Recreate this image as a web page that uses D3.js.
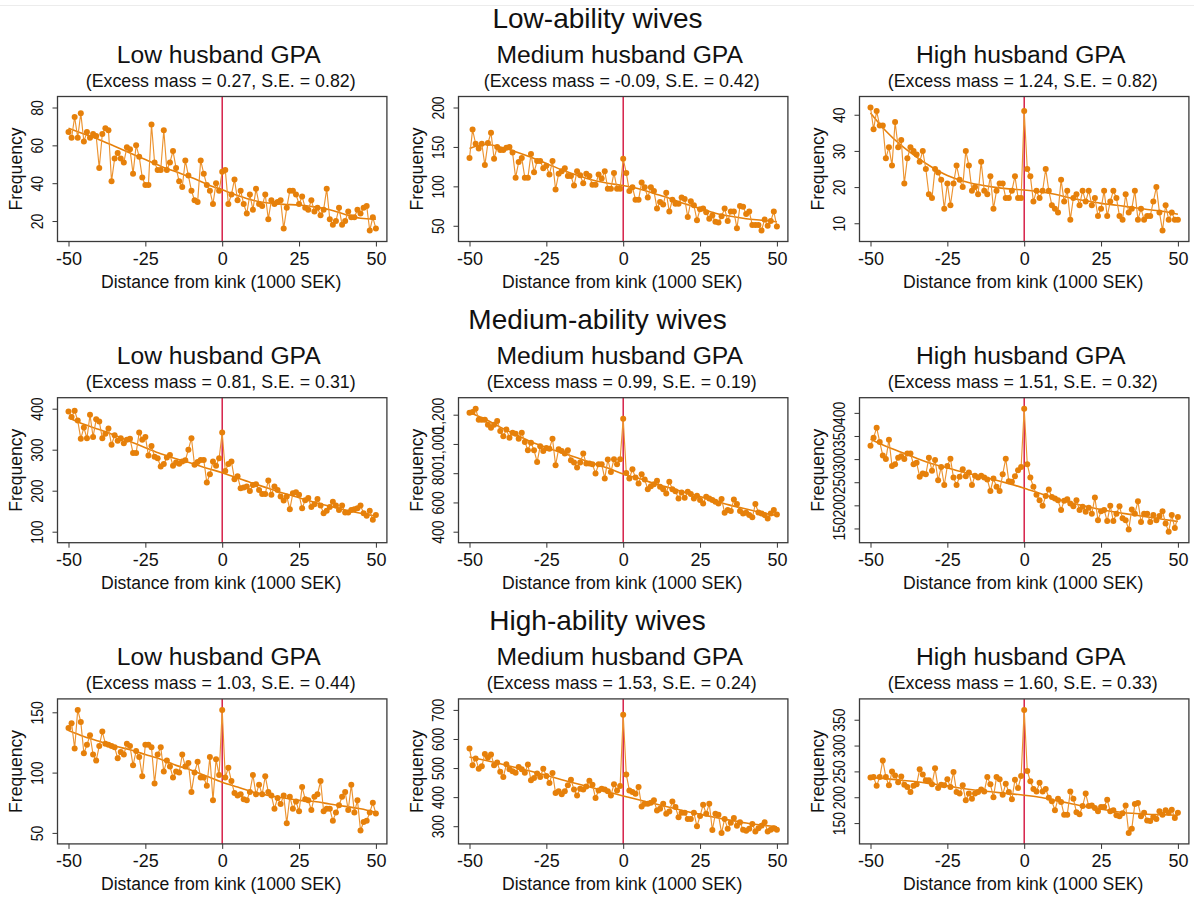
<!DOCTYPE html>
<html>
<head>
<meta charset="utf-8">
<script src="https://cdn.jsdelivr.net/npm/d3@7"></script>
<style>
  html, body { margin: 0; padding: 0; background: #fff; }
  svg { display: block; font-family: "Liberation Sans", Arial, Helvetica, sans-serif; }
</style>
</head>
<body>
<svg id="chart" width="1194" height="900"></svg>
<script>
// Income bins, distance from the kink in 1000 SEK
const bins = d3.range(-50, 51);
const fitBins = d3.range(-50, 51, 5);

const rowTitles = ["Low-ability wives", "Medium-ability wives", "High-ability wives"];
const colTitles = ["Low husband GPA", "Medium husband GPA", "High husband GPA"];
const excessMass = [[0.27, -0.09, 1.24], [0.81, 0.99, 1.51], [1.03, 1.53, 1.60]];
const stdErr = [[0.82, 0.42, 0.82], [0.31, 0.19, 0.32], [0.44, 0.24, 0.33]];

// Observed frequencies per bin (-50 ... 50)
const lowLow = [67,64,75,64,77,62,67,64,66,65, 48,66,69,68,41,53,56,53,51,59, 58,45,60,54,43,39,39,71,51,47,
  47,68,47,51,57,48,41,38,52,44, 36,31,30,52,45,39,36,29,40,36, 46,
  47,29,34,42,31,36,29,24,34,26, 37,29,28,34,21,31,29,30,31,16, 27,36,36,34,29,33,27,26,31,25,
  27,23,26,37,21,18,20,27,18,20, 25,22,22,26,24,27,28,15,22,16];
const lowMed = [136,172,154,148,154,127,155,168,135,150, 146,146,149,150,143,111,131,136,111,111,
  141,118,132,132,123,126,115,132,96,116, 119,123,113,113,101,119,114,104,116,113,
  102,102,115,110,119,97,97,117,97,97, 135,
  117,94,99,83,83,105,99,86,99,94, 72,80,77,92,68,83,78,78,86,84, 61,81,76,57,71,72,67,59,63,55,
  54,62,72,56,68,68,47,75,74,65, 68,51,51,51,44,58,50,56,68,49];
const lowHigh = [42,36,41,37,37,28,31,26,38,31, 33,21,28,31,30,29,27,30,25,18, 17,25,24,22,14,21,15,21,26,22,
  20,30,26,19,20,18,27,19,18,23, 14,19,21,21,17,17,19,23,17,17, 41,
  25,23,16,19,17,19,25,19,15,14, 13,22,16,19,11,17,18,15,19,16, 19,15,17,12,14,19,12,16,19,17,
  12,11,18,13,14,19,11,14,11,12, 12,16,20,13,8,15,11,13,11,11];
const medLow = [393,380,395,371,327,354,328,385,331,374, 369,328,339,352,312,335,322,328,316,324,
  327,292,292,342,324,331,286,309,283,279, 259,265,281,287,261,269,266,271,274,300,
  328,263,270,275,275,220,240,271,261,279, 342,
  248,265,271,228,235,206,208,210,199,214, 216,202,192,192,225,190,210,202,186,176,
  186,155,194,196,190,157,177,182,160,167, 180,164,145,151,160,173,164,153,164,147,
  147,153,155,157,164,145,139,151,129,141];
const medMed = [1214,1218,1241,1166,1166,1166,1132,1111,1132,1157, 1089,1052,1098,1043,1077,1070,1036,1077,1014,957,
  1009,957,877,984,952,973,968,1036,855,964, 952,934,957,889,873,839,873,934,866,866,
  861,798,861,861,764,893,809,895,861,895, 1173,
  802,764,827,770,730,793,757,691,711,725, 748,707,691,661,741,691,677,627,668,632,
  673,657,627,645,616,593,639,627,616,605, 593,623,530,548,541,620,589,541,525,530,
  514,498,589,532,525,514,491,525,548,518];
const medHigh = [329,346,368,337,308,300,342,285,289,303, 306,300,312,312,289,292,262,269,267,303,
  275,298,254,283,244,285,301,260,244,262, 278,263,271,244,264,260,264,260,256,231,
  258,240,231,267,301,252,251,263,276,283, 409,
  289,260,240,223,211,199,220,234,218,215, 211,190,210,213,204,198,211,190,197,186,
  195,182,217,168,187,190,166,199,166,182, 198,172,168,148,191,182,209,164,182,182,
  164,179,168,177,187,161,143,179,151,175];
const highLow = [137,141,120,152,142,116,123,131,115,110, 122,134,124,123,122,121,112,117,115,124,
  122,106,118,113,97,123,123,121,91,115, 121,101,110,105,96,101,100,115,105,108,
  84,100,109,96,96,89,113,77,111,98, 152,
  96,104,93,83,81,82,78,77,84,98, 82,90,82,97,84,81,70,79,74,81, 58,80,70,76,68,88,78,77,69,80,
  82,93,68,70,70,60,67,73,80,84, 69,90,67,77,52,59,60,67,75,66];
const highMed = [567,510,533,498,506,548,536,547,510,519, 487,469,513,496,489,484,504,496,484,512,
  458,466,481,469,498,473,449,483,414,420, 410,420,441,460,426,406,429,426,437,456,
  443,397,423,429,426,420,406,444,423,438, 683,
  478,423,418,412,435,368,377,377,381,389, 354,360,377,343,351,385,366,331,346,346,
  325,325,346,300,335,374,343,377,287,343, 339,277,325,291,312,328,302,314,288,284,
  291,308,282,293,302,314,282,288,293,288];
const highHigh = [238,239,222,239,271,239,223,250,242,229, 240,224,220,210,222,225,254,244,233,233,
  225,256,218,224,223,235,220,249,210,207, 223,194,207,197,207,210,215,211,239,225,
  200,239,235,205,226,210,196,234,218,241, 369,
  251,231,216,211,228,211,216,199,192,175, 197,191,166,166,211,197,171,167,183,207,
  183,184,179,173,181,181,195,173,175,165, 163,169,184,131,139,187,189,163,170,155,
  154,162,158,173,166,175,170,176,160,170];

// Estimated counterfactual density, every 5 bins (-50, -45, ... 50)
const fitLowLow   = [69,66,63,59.5,56,52.5,49,46,43,39.5,36.5,33.5,31,29.5,28.8,28.5,27.5,26,23.5,21.5,21];
const fitLowMed   = [148,153,150,144,137,129,121,114,108,104,101,97,91,85,78,72,66,62,59,57,55];
const fitLowHigh  = [40.5,35.5,31.5,28.3,25.5,23.2,21.7,20.7,20,19.5,19.2,18.7,18,17,16.2,15.5,15,14.4,13.8,13.3,12.5];
const fitMedLow   = [378,362,349,335,320,305,290,278,267,255,244,231,218,206,194,183,172,162,153,145,138];
const fitMedMed   = [1215,1170,1115,1065,1015,975,940,905,870,835,795,765,730,700,670,640,610,580,555,530,510];
const fitMedHigh  = [343,328,315,302,290,281,272,264,256,247,237,226,215,206,198,191,185,180,175,170,165];
const fitHighLow  = [135,130,126,122,119,115,111,106,102,97,92,88,84,81,79,77,76,74,72,70,67];
const fitHighMed  = [538,527,515,502,489,475,460,446,432,418,404,391,378,365,352,341,330,320,311,304,298];
const fitHighHigh = [238,236,233,230,226,222,217,213,210,207,204,200,194,188,182,177,172,169,167,166,165];

// Axis ticks
const xTicks = [-50, -25, 0, 25, 50];
const ticksLowLow   = [20, 40, 60, 80];
const ticksLowMed   = [50, 100, 150, 200];
const ticksLowHigh  = [10, 20, 30, 40];
const ticksMedLow   = [100, 200, 300, 400];
const ticksMedMed   = [400, 600, 800, 1000, 1200];
const ticksMedHigh  = [150, 200, 250, 300, 350, 400];
const ticksHighLow  = [50, 100, 150];
const ticksHighMed  = [300, 400, 500, 600, 700];
const ticksHighHigh = [150, 200, 250, 300, 350];

const panels = [
  [ {obs: lowLow,  fit: fitLowLow,  ticks: ticksLowLow},
    {obs: lowMed,  fit: fitLowMed,  ticks: ticksLowMed},
    {obs: lowHigh, fit: fitLowHigh, ticks: ticksLowHigh} ],
  [ {obs: medLow,  fit: fitMedLow,  ticks: ticksMedLow},
    {obs: medMed,  fit: fitMedMed,  ticks: ticksMedMed},
    {obs: medHigh, fit: fitMedHigh, ticks: ticksMedHigh} ],
  [ {obs: highLow,  fit: fitHighLow,  ticks: ticksHighLow},
    {obs: highMed,  fit: fitHighMed,  ticks: ticksHighMed},
    {obs: highHigh, fit: fitHighHigh, ticks: ticksHighHigh} ]
];

// Layout
const frameW = 329.4, frameH = 145;
const colStep = 401, rowStep = 301.2;
const frameLeft0 = 57.5, frameTop0 = 96.5;
const inset = 11;

const ORANGE = "#E6800A";
const LINE_ORANGE = "#EC9330";
const KINK = "#D3113D";
const INK = "#111";

const svg = d3.select("#chart");
svg.append("rect").attr("width", 1194).attr("height", 900).attr("fill", "#fff");
svg.append("line").attr("x1", 0).attr("x2", 1194).attr("y1", 5.5).attr("y2", 5.5)
  .attr("stroke", "#ececec").attr("stroke-width", 1);

const numFmt = d3.format(",");

panels.forEach((row, i) => {
  const ft = frameTop0 + i * rowStep;

  svg.append("text")
    .attr("x", 597.5).attr("y", ft - 69)
    .attr("text-anchor", "middle")
    .attr("font-size", 28).attr("fill", INK)
    .text(rowTitles[i]);

  row.forEach((p, j) => {
    const fl = frameLeft0 + j * colStep;
    const g = svg.append("g").attr("transform", `translate(${fl},${ft})`);

    const x = d3.scaleLinear().domain([-50, 50]).range([inset, frameW - inset]);
    const lo = Math.min(d3.min(p.obs), d3.min(p.ticks));
    const hi = Math.max(d3.max(p.obs), d3.max(p.ticks));
    const y = d3.scaleLinear().domain([lo, hi]).range([frameH - inset, inset]);

    // Titles
    g.append("text")
      .attr("x", frameW / 2 - 3.5).attr("y", -34)
      .attr("text-anchor", "middle").attr("font-size", 24.7).attr("fill", INK)
      .text(colTitles[j]);
    g.append("text")
      .attr("x", frameW / 2 - 1.5).attr("y", -9.5)
      .attr("text-anchor", "middle").attr("font-size", 17.8).attr("fill", INK)
      .text(`(Excess mass = ${excessMass[i][j].toFixed(2)}, S.E. = ${stdErr[i][j].toFixed(2)})`);

    // Kink marker
    g.append("line")
      .attr("x1", x(0)).attr("x2", x(0)).attr("y1", 0).attr("y2", frameH)
      .attr("stroke", KINK).attr("stroke-width", 1.4);

    // Counterfactual fit
    g.append("path")
      .datum(fitBins.map((b, k) => [b, p.fit[k]]))
      .attr("fill", "none").attr("stroke", ORANGE).attr("stroke-width", 1.6)
      .attr("d", d3.line().x(d => x(d[0])).y(d => y(d[1])).curve(d3.curveMonotoneX));

    // Observed series
    const pts = bins.map((b, k) => [b, p.obs[k]]);
    g.append("path")
      .datum(pts)
      .attr("fill", "none").attr("stroke", LINE_ORANGE).attr("stroke-width", 1.15)
      .attr("d", d3.line().x(d => x(d[0])).y(d => y(d[1])));
    g.selectAll("circle.obs").data(pts).enter().append("circle")
      .attr("class", "obs")
      .attr("cx", d => x(d[0])).attr("cy", d => y(d[1])).attr("r", 3)
      .attr("fill", ORANGE);

    // Axes
    const xAxis = g.append("g").attr("transform", `translate(0,${frameH})`)
      .call(d3.axisBottom(x).tickValues(xTicks).tickSize(5).tickSizeOuter(0).tickFormat(d => String(d)));
    xAxis.select(".domain").remove();
    xAxis.selectAll("line").attr("stroke", "#333").attr("stroke-width", 1);
    xAxis.selectAll("text").attr("y", 23.5).attr("dy", 0)
      .attr("font-size", 18).attr("fill", INK).attr("font-family", null);

    const yAxis = g.append("g")
      .call(d3.axisLeft(y).tickValues(p.ticks).tickSize(5).tickSizeOuter(0).tickFormat(numFmt));
    yAxis.select(".domain").remove();
    yAxis.selectAll("line").attr("stroke", "#333").attr("stroke-width", 1);
    yAxis.selectAll("text")
      .attr("transform", "rotate(-90) scale(0.87,1)")
      .attr("x", 0).attr("y", -15).attr("dy", 0)
      .attr("text-anchor", "middle")
      .attr("font-size", 16).attr("fill", INK).attr("font-family", null);

    // Axis titles
    g.append("text")
      .attr("x", frameW / 2 - 1).attr("y", frameH + 46.5)
      .attr("text-anchor", "middle").attr("font-size", 17.6).attr("fill", INK)
      .text("Distance from kink (1000 SEK)");
    g.append("text")
      .attr("transform", `translate(-36,${frameH / 2}) rotate(-90)`)
      .attr("text-anchor", "middle").attr("font-size", 17.6).attr("fill", INK)
      .text("Frequency");

    // Plot frame
    g.append("rect")
      .attr("x", 0).attr("y", 0).attr("width", frameW).attr("height", frameH)
      .attr("fill", "none").attr("stroke", "#3a3a3a").attr("stroke-width", 1.3);
  });
});
</script>
</body>
</html>
